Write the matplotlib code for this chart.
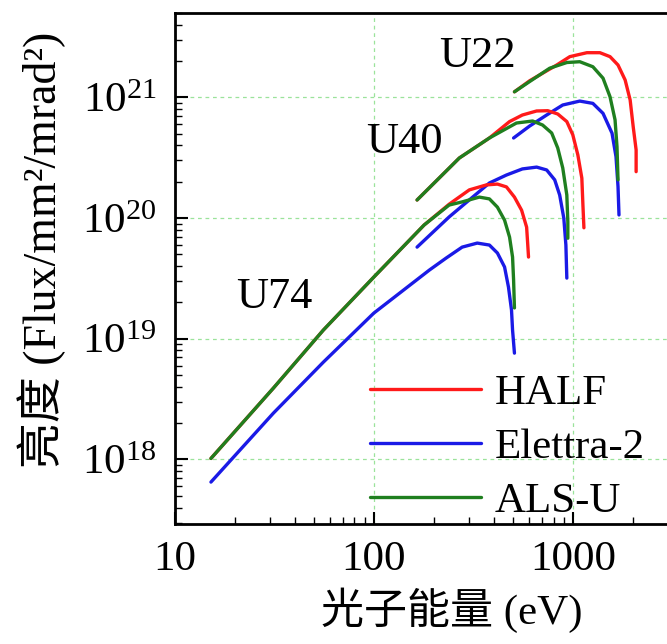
import matplotlib
matplotlib.use("Agg")
import matplotlib.pyplot as plt
from matplotlib.ticker import LogLocator, NullFormatter, FixedLocator

# photon energy (eV) / brightness values
# U74
u74_half_e = [15.2, 31.3, 55.8, 100, 179, 239, 302, 368, 418, 464, 509, 553, 586, 593, 599]
u74_half_b = [1.02e18, 3.9e18, 1.18e19, 3.24e19, 8.75e19, 1.3e20, 1.71e20, 1.88e20, 1.91e20,
              1.81e20, 1.49e20, 1.16e20, 8.4e19, 6.2e19, 4.75e19]
u74_elettra_e = [15.2, 31.3, 55.8, 100, 190, 231, 278, 331, 381, 418, 454, 475, 492, 498, 509]
u74_elettra_b = [6.5e17, 2.42e18, 6.4e18, 1.63e19, 3.7e19, 4.66e19, 5.74e19, 6.2e19, 5.97e19,
                 5.13e19, 3.93e19, 2.68e19, 1.73e19, 1.18e19, 7.6e18]
u74_als_e = [15.2, 31.3, 55.8, 100, 179, 239, 278, 339, 381, 418, 454, 481, 498, 504, 509]
u74_als_b = [1.02e18, 3.9e18, 1.18e19, 3.24e19, 8.75e19, 1.28e20, 1.36e20, 1.49e20, 1.44e20,
             1.23e20, 9.6e19, 6.95e19, 4.75e19, 3.06e19, 1.8e19]

# U40
u40_half_e = [165, 269, 381, 481, 558, 658, 748, 840, 933, 1000, 1060, 1110, 1124, 1137]
u40_half_b = [1.41e20, 3.14e20, 4.6e20, 6.29e20, 7.13e20, 7.7e20, 7.74e20, 7.27e20, 6.29e20,
              4.88e20, 3.33e20, 2.14e20, 1.28e20, 8.3e19]
u40_elettra_e = [165, 239, 381, 464, 558, 658, 739, 811, 859, 901, 923, 933]
u40_elettra_b = [5.74e19, 1.02e20, 1.95e20, 2.27e20, 2.55e20, 2.64e20, 2.5e20, 2.07e20, 1.55e20,
                 9.98e19, 5.97e19, 3.18e19]
u40_als_e = [165, 269, 381, 521, 628, 705, 783, 840, 890, 933, 944, 944]
u40_als_b = [1.41e20, 3.14e20, 4.6e20, 6.12e20, 6.36e20, 5.89e20, 5.06e20, 3.8e20, 2.6e20,
             1.55e20, 9.3e19, 6.8e19]

# U22
u22_half_e = [509, 607, 830, 966, 1177, 1368, 1538, 1687, 1832, 1941, 2011, 2080, 2080]
u22_half_b = [1.11e21, 1.37e21, 1.85e21, 2.17e21, 2.34e21, 2.34e21, 2.17e21, 1.85e21, 1.39e21,
              9.5e20, 5.7e20, 3.66e20, 2.42e20]
u22_elettra_e = [504, 607, 739, 890, 1084, 1261, 1418, 1574, 1648, 1687, 1706]
u22_elettra_b = [4.6e20, 5.78e20, 7.13e20, 8.63e20, 9.3e20, 8.9e20, 7.36e20, 5.04e20, 3.22e20,
                 1.82e20, 1.06e20]
u22_als_e = [509, 607, 765, 933, 1084, 1261, 1418, 1538, 1630, 1667, 1687]
u22_als_b = [1.11e21, 1.35e21, 1.74e21, 1.94e21, 1.97e21, 1.79e21, 1.44e21, 1.01e21, 6.5e20,
             3.9e20, 2.07e20]

names = ["HALF", "Elettra-2", "ALS-U"]
colors = ["#ff1a1a", "#1a1ae6", "#1f7f1f"]

plt.rcParams["font.family"] = ["Liberation Serif", "Noto Sans CJK SC"]
plt.rcParams["mathtext.fontset"] = "stix"

fig = plt.figure(figsize=(6.67, 6.44), dpi=100)
ax = fig.add_axes([0.262, 0.186, 0.743, 0.794])

series = {
    "HALF": [(u74_half_e, u74_half_b), (u40_half_e, u40_half_b), (u22_half_e, u22_half_b)],
    "Elettra-2": [(u74_elettra_e, u74_elettra_b), (u40_elettra_e, u40_elettra_b), (u22_elettra_e, u22_elettra_b)],
    "ALS-U": [(u74_als_e, u74_als_b), (u40_als_e, u40_als_b), (u22_als_e, u22_als_b)],
}
# blue first, then red, green on top
for name in ["Elettra-2", "HALF", "ALS-U"]:
    c = colors[names.index(name)]
    for i, (e, b) in enumerate(series[name]):
        ax.plot(e, b, color=c, lw=2.4, label=name if i == 0 else None,
                solid_capstyle="round", solid_joinstyle="round")

ax.set_xscale("log")
ax.set_yscale("log")
ax.set_xlim(10, 3090)
ax.set_ylim(2.91e17, 5.0e21)

ax.xaxis.set_major_locator(FixedLocator([10, 100, 1000]))
ax.set_xticklabels(["10", "100", "1000"])
ax.xaxis.set_minor_locator(LogLocator(base=10, subs=range(2, 10)))
ax.xaxis.set_minor_formatter(NullFormatter())
ax.yaxis.set_major_locator(FixedLocator([1e18, 1e19, 1e20, 1e21]))
ax.set_yticklabels([r"$\mathregular{10^{18}}$", r"$\mathregular{10^{19}}$",
                    r"$\mathregular{10^{20}}$", r"$\mathregular{10^{21}}$"])
ax.yaxis.set_minor_locator(LogLocator(base=10, subs=range(2, 10)))
ax.yaxis.set_minor_formatter(NullFormatter())

ax.tick_params(which="major", direction="in", length=9, width=1.5, labelsize=31, pad=12)
ax.tick_params(which="minor", direction="in", length=5, width=1.0)
ax.tick_params(axis="y", which="major", pad=13)

for s in ax.spines.values():
    s.set_linewidth(2)
ax.spines["right"].set_visible(False)

ax.grid(True, which="major", color="#9be39b", linestyle=(0, (3, 3)), lw=0.9)
ax.set_axisbelow(True)

ax.text(331, 2.2e21, "U22", fontsize=32, ha="center", va="center")
ax.text(143, 4.3e20, "U40", fontsize=32, ha="center", va="center")
ax.text(31.6, 2.2e19, "U74", fontsize=32, ha="center", va="center")

handles, labels = ax.get_legend_handles_labels()
order = [labels.index(n) for n in names]
ax.legend([handles[i] for i in order], [labels[i] for i in order],
          loc="lower right", bbox_to_anchor=(1.0, -0.045), frameon=False,
          fontsize=31, handlelength=2.6, handletextpad=0.3, labelspacing=0.35,
          borderaxespad=0.2)

ax.set_xlabel("光子能量 (eV)", fontsize=31, va="center")
ax.xaxis.set_label_coords(0.559, -0.168)
ax.set_ylabel("亮度 (Flux/mm²/mrad²)", fontsize=33, va="center")
ax.yaxis.set_label_coords(-0.268, 0.536)

fig.savefig("out.png", dpi=100)
